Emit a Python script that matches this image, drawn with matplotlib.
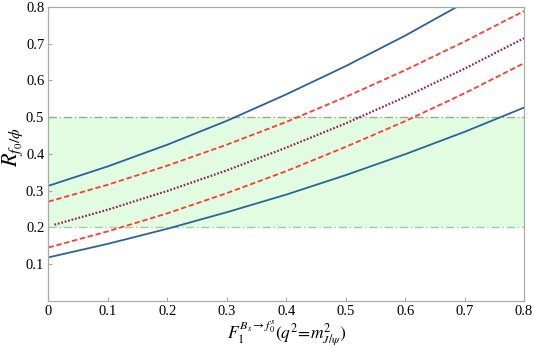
import matplotlib.pyplot as plt
import numpy as np

plt.rcParams['font.family'] = ['Liberation Serif', 'DejaVu Serif']
plt.rcParams['mathtext.fontset'] = 'stix'

# values
f1 = [0.0, 0.1, 0.2, 0.3, 0.4, 0.5, 0.6, 0.7, 0.8]
blue_hi = [0.313, 0.366, 0.425, 0.490, 0.562, 0.639, 0.722, 0.812, 0.906]
blue_lo = [0.118, 0.155, 0.196, 0.241, 0.289, 0.342, 0.399, 0.460, 0.526]
red_hi = [0.270, 0.316, 0.368, 0.425, 0.487, 0.555, 0.628, 0.706, 0.789]
red_lo = [0.145, 0.189, 0.238, 0.293, 0.353, 0.419, 0.489, 0.565, 0.647]
f1_mid = [0.01, 0.1, 0.2, 0.3, 0.4, 0.5, 0.6, 0.7, 0.8]
central = [0.207, 0.248, 0.299, 0.355, 0.417, 0.483, 0.555, 0.632, 0.715]
band = (0.2, 0.5)

fig = plt.figure(figsize=(5.34, 3.47), dpi=100)
ax = fig.add_axes([0.0908, 0.1334, 0.8905, 0.8464])

ax.axhspan(band[0], band[1], color='#e2fce2', lw=0, zorder=0)
ax.axhline(band[1], color='#9aab86', lw=1.0, ls='-.', dashes=(6, 2, 1, 2))
ax.axhline(band[0], color='#96d296', lw=1.0, ls='-.', dashes=(6, 2, 1, 2))

ax.plot(f1, blue_hi, color='#2c5f9e', lw=1.3)
ax.plot(f1, blue_lo, color='#2b6592', lw=1.3)
ax.plot(f1, red_hi, color='#ff3b30', lw=1.3, ls=(0, (3, 1.5)))
ax.plot(f1, red_lo, color='#ff3b30', lw=1.3, ls=(0, (3, 1.5)))
ax.plot(f1_mid, central, color='#8b2a55', lw=1.6, ls=(0, (0.8, 0.8)))

ax.set_xlim(0, 0.8)
ax.set_ylim(0, 0.8)
ax.set_xticks(np.arange(0, 0.81, 0.1))
ax.set_xticklabels(['0', '0.1', '0.2', '0.3', '0.4', '0.5', '0.6', '0.7', '0.8'])
ax.set_yticks(np.arange(0.1, 0.81, 0.1))
ax.set_yticklabels(['0.1', '0.2', '0.3', '0.4', '0.5', '0.6', '0.7', '0.8'])
ax.tick_params(direction='in', length=3, color='#aaaaaa', labelsize=10.5, pad=3)
for s in ax.spines.values():
    s.set_color('#aaaaaa')
    s.set_linewidth(0.9)

fig.text(0.537, 0.0, r'$F_1^{B_s\to f_0^s}(q^2\!=\!m^2_{J/\psi})$',
         fontsize=12.5, ha='center', va='bottom')
fig.text(0.024, 0.575, r'$R_{f_0/\phi}$', fontsize=16, rotation=90,
         ha='center', va='center')

fig.savefig('out.png', dpi=100)
